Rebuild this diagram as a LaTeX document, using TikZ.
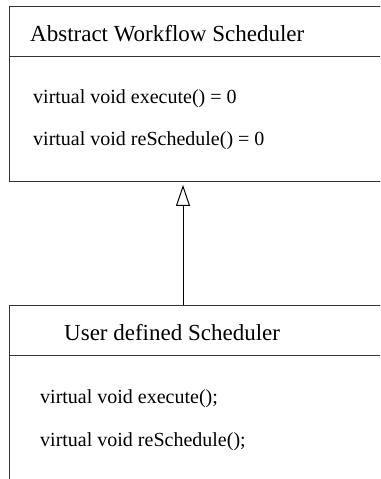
\documentclass[tikz,border=0pt]{standalone}
\usepackage{fontspec}
\setmainfont{Liberation Serif}
\usetikzlibrary{arrows.meta}
\begin{document}
\begin{tikzpicture}[x=1pt, y=-1pt]
        \tikzstyle{classbox} = [rectangle, draw=black!80, line width=0.9pt, minimum width=420pt, anchor=north west, inner sep=0pt]
        \tikzstyle{divider} = [draw=black!80, line width=0.9pt]
        \tikzstyle{title} = [anchor=base west, inner sep=0pt, font=\fontsize{23}{27}\selectfont]
        \tikzstyle{method} = [anchor=base west, inner sep=0pt, font=\fontsize{20}{24}\selectfont]
        \tikzstyle{arrow} = [line width=1pt, -{Triangle[open, length=21pt, width=14pt]}]
        \useasboundingbox (0,0) rectangle (380,479);
        \clip (0,0) rectangle (380,479);
        % the two classes
        \node (abs) [classbox, minimum height=175pt] at (9,6) {};
        \node (user) [classbox, minimum height=200pt] at (9,305) {};
        \draw[divider] (abs.north west) ++(0,50) -- ++(420,0);
        \draw[divider] (user.north west) ++(0,50) -- ++(420,0);
        \node (abstitle) [title] at (30,41) {Abstract Workflow Scheduler};
        \node (absexec) [method] at (33,103) {virtual void execute() = 0};
        \node (absresched) [method] at (33,145) {virtual void reSchedule() = 0};
        \node (usertitle) [title] at (64,340) {User defined Scheduler};
        \node (userexec) [method] at (40,403) {virtual void execute();};
        \node (userresched) [method] at (40,446) {virtual void reSchedule();};
        % inheritance
        \draw[arrow] ([xshift=174pt]user.north west) to ([xshift=174pt, yshift=-3pt]abs.south west);
\end{tikzpicture}
\end{document}
